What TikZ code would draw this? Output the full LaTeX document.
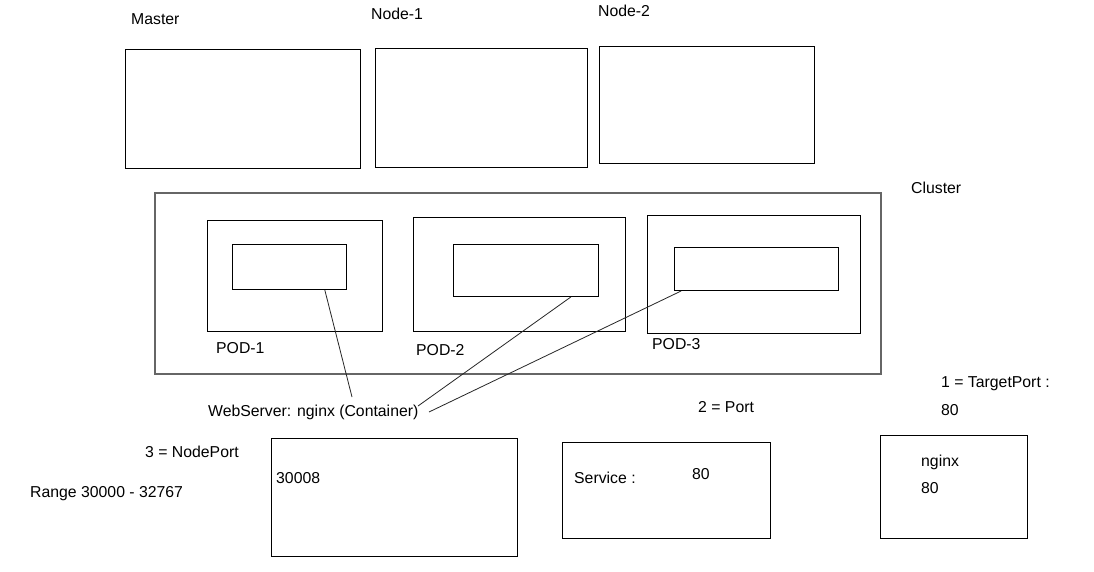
\documentclass[tikz,border=0pt]{standalone}
\usepackage{fontspec}
\setmainfont{Liberation Sans}
\usetikzlibrary{calc}
\tikzset{
  box/.style={draw=black, line width=1pt},
  clusterbox/.style={draw=black!60, line width=1.3pt},
  lbl/.style={anchor=base west, inner sep=0pt, font=\fontsize{15.8}{18}\selectfont},
  wire/.style={draw=black!85, line width=0.8pt},
}
\begin{document}
\begin{tikzpicture}[x=1pt,y=-1pt]
\useasboundingbox[fill=white] (0,0) rectangle (1094,571);
% top boxes
\draw[box] (125,49) rectangle (360,168);
\draw[box] (375,48) rectangle (587,167);
\draw[box] (599,46) rectangle (814,163);
\node[lbl] (tmaster) at (131,24) {Master};
\node[lbl] (tnode1) at (371,19.5) {Node-1};
\node[lbl] (tnode2) at (598,16.5) {Node-2};
% cluster
\draw[clusterbox] (155,193) rectangle (881,374);
\node[lbl] (tcluster) at (911,193.5) {Cluster};
% pods
\draw[box] (207,220) rectangle (382,331);
\draw[box] (413,217) rectangle (625,331);
\draw[box] (647,215) rectangle (860,333);
\node[box, draw, inner sep=0pt, minimum width=114pt, minimum height=45pt, anchor=north west] (in1) at (232,244) {};
\node[box, draw, inner sep=0pt, minimum width=145pt, minimum height=52pt, anchor=north west] (in2) at (453,244) {};
\node[box, draw, inner sep=0pt, minimum width=164pt, minimum height=43pt, anchor=north west] (in3) at (674,247) {};
\node[lbl] (tpod1) at (216,353.5) {POD-1};
\node[lbl] (tpod2) at (416,355) {POD-2};
\node[lbl] (tpod3) at (652,349.5) {POD-3};
% container label and wires
\node[lbl] (web) at (208,416) {WebServer: nginx (Container)};
\coordinate (e1) at (352,397);
\coordinate (e2) at (418,406);
\coordinate (e3) at (429,412);
\draw[wire] ($(in1.south west)!0.807!(in1.south east)$) -- (e1);
\draw[wire] ($(in2.south west)!0.807!(in2.south east)$) -- (e2);
\draw[wire] ($(in3.south west)!0.043!(in3.south east)$) -- (e3);
% port labels
\node[lbl] (tport) at (698,412.5) {2 = Port};
\node[lbl] (ttarget) at (941,387.5) {1 = TargetPort :};
\node[lbl] (ttarget80) at (941,415.5) {80};
\node[lbl] (tnodeport) at (145,457.5) {3 = NodePort};
\node[lbl] (trange) at (30,497.5) {Range 30000 - 32767};
% bottom boxes
\draw[box] (271,438) rectangle (517,556);
\node[lbl] (t30008) at (276,483.5) {30008};
\draw[box] (562,442) rectangle (770,538);
\node[lbl] (tservice) at (574,483.5) {Service :};
\node[lbl] (tservice80) at (692,479.5) {80};
\draw[box] (880,435) rectangle (1027,538);
\node[lbl] (tnginx) at (921,466.5) {nginx};
\node[lbl] (tnginx80) at (921,493.5) {80};
\end{tikzpicture}
\end{document}
